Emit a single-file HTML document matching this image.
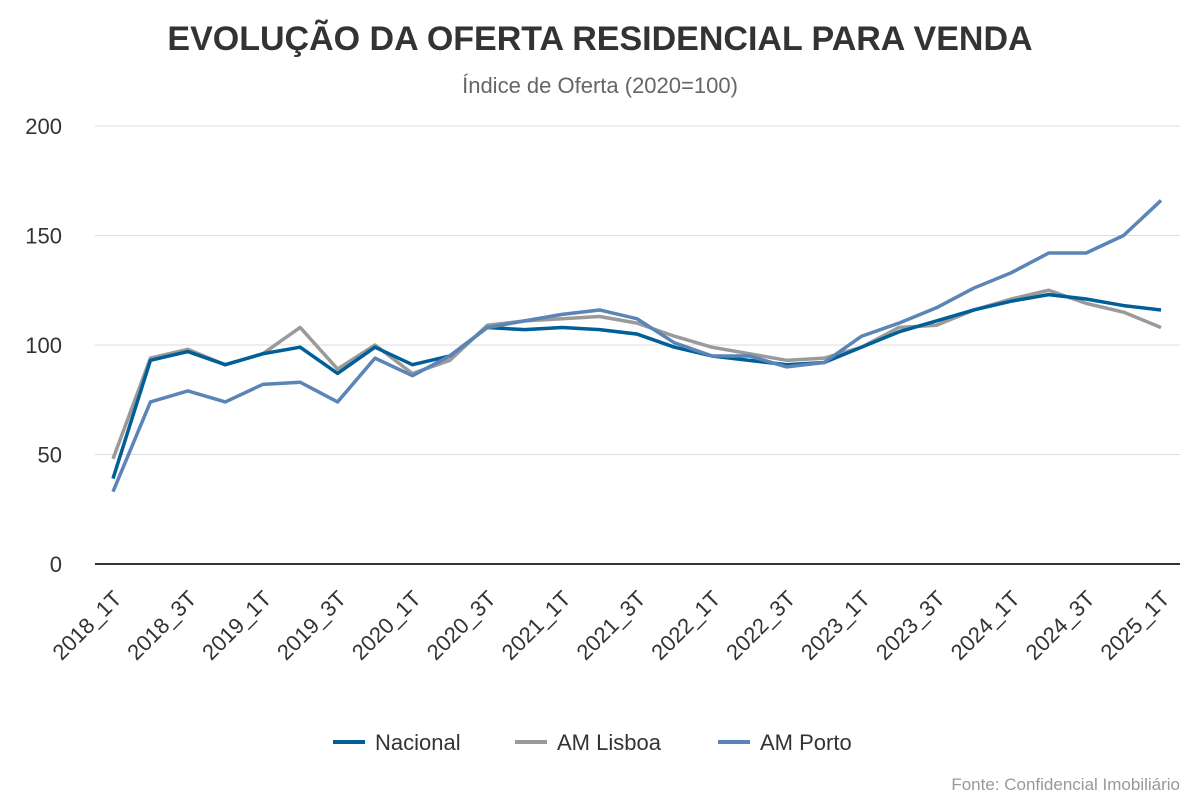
<!DOCTYPE html>
<html><head><meta charset="utf-8"><style>
body{margin:0;background:#fff;font-family:"Liberation Sans",sans-serif;}
</style></head><body>
<svg width="1200" height="800" xmlns="http://www.w3.org/2000/svg">
<text x="600" y="50" text-anchor="middle" font-size="34" font-weight="bold" fill="#333">EVOLUÇÃO DA OFERTA RESIDENCIAL PARA VENDA</text>
<text x="600" y="93" text-anchor="middle" font-size="22" fill="#666">Índice de Oferta (2020=100)</text>
<g id="grid"></g><g id="xlab"></g><g id="lines"></g>
<g>
<line x1="333" y1="742" x2="365" y2="742" stroke="#005f96" stroke-width="4"/><text x="375" y="750" font-size="22" fill="#333">Nacional</text>
<line x1="515" y1="742" x2="547" y2="742" stroke="#9a9a9a" stroke-width="4"/><text x="557" y="750" font-size="22" fill="#333">AM Lisboa</text>
<line x1="718" y1="742" x2="750" y2="742" stroke="#5b84b7" stroke-width="4"/><text x="760" y="750" font-size="22" fill="#333">AM Porto</text>
</g>
<text x="1180" y="790" text-anchor="end" font-size="17" fill="#999">Fonte: Confidencial Imobiliário</text>
</svg>
<script>
const categories=[];for(let y=2018;y<=2025;y++)for(let q=1;q<=4;q++){if(y===2025&&q>1)break;categories.push(y+"_"+q+"T");}
const nacional=[39,93,97,91,96,99,87,99,91,95,108,107,108,107,105,99,95,93,91,92,99,106,111,116,120,123,121,118,116];
const lisboa=[48,94,98,91,96,108,89,100,87,93,109,111,112,113,110,104,99,96,93,94,99,108,109,116,121,125,119,115,108];
const porto=[33,74,79,74,82,83,74,94,86,95,108,111,114,116,112,101,95,95,90,92,104,110,117,126,133,142,142,150,166];
const yTicks=[0,50,100,150,200];
const NS="http://www.w3.org/2000/svg";
const x0=113,x1=1161,yb=564,yt=126;
const X=i=>x0+i*(x1-x0)/(categories.length-1);
const Y=v=>yb-v*(yb-yt)/200;
function mk(t,a,p){const e=document.createElementNS(NS,t);for(const k in a)e.setAttribute(k,a[k]);p.appendChild(e);return e;}
const g=document.getElementById('grid');
yTicks.forEach(v=>{
 const l=mk('line',{x1:95,x2:1180,y1:Y(v),y2:Y(v),stroke:v===0?'#333':'#ddd','stroke-width':v===0?2:1},g);
 
 
 const t=mk('text',{x:62,y:Y(v)+8,'text-anchor':'end','font-size':22,fill:'#333'},g);t.textContent=v;
 
 
});
const xl=document.getElementById('xlab');
categories.forEach((c,i)=>{if(i%2)return;
 const tx=X(i)+10,ty=600;
 const t=mk('text',{x:tx,y:ty,'text-anchor':'end','font-size':22,fill:'#333',transform:`rotate(-45 ${tx} ${ty})`},xl);t.textContent=c;
 
 
});
const L=document.getElementById('lines');
[[lisboa,'#9a9a9a','series-am-lisboa'],[nacional,'#005f96','series-nacional'],[porto,'#5b84b7','series-am-porto']].forEach(([d,c,n])=>{
 const p=mk('polyline',{points:d.map((v,i)=>X(i)+','+Y(v)).join(' '),fill:'none',stroke:c,'stroke-width':3.5,'stroke-linejoin':'round'},L);
 
 
});
</script>
</body></html>
